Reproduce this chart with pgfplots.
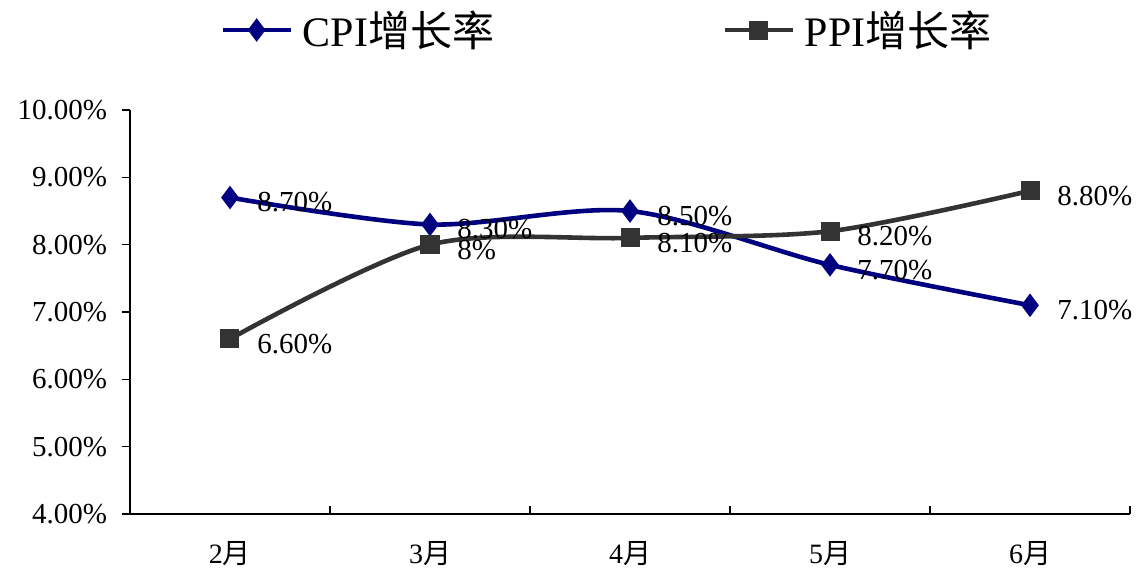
\documentclass[border=0pt]{standalone}
\usepackage{fontspec}
\setmainfont{Liberation Serif}
\newfontfamily\cjk{Noto Sans CJK SC}
\usepackage{pgfplots}
\pgfplotsset{compat=1.18}
\definecolor{cpicol}{RGB}{0,0,128}
\definecolor{ppicol}{RGB}{51,51,51}
\begin{document}
\begin{tikzpicture}
\begin{axis}[
  scale only axis,
  width=500pt, height=202pt,
  xmin=-0.5, xmax=4.5,
  ymin=4, ymax=10,
  axis lines=left,
  axis line style={-, line width=0.6pt, black},
  tick align=outside,
  major tick length=4pt,
  tick style={black, line width=0.6pt},
  xtick={-0.5,0.5,1.5,2.5,3.5,4.5},
  x tick label as interval,
  xticklabels={2{\cjk 月},3{\cjk 月},4{\cjk 月},5{\cjk 月},6{\cjk 月}},
  xtick style={yshift=4pt},
  xticklabel style={font=\fontsize{14}{14}\selectfont, yshift=-6pt},
  ytick={4,5,6,7,8,9,10},
  yticklabels={4.00\%,5.00\%,6.00\%,7.00\%,8.00\%,9.00\%,10.00\%},
  yticklabel style={font=\fontsize{14.5}{14.5}\selectfont, xshift=-4pt},
  point meta=explicit symbolic,
  nodes near coords={\pgfplotspointmeta},
  every node near coord/.append style={anchor=west, inner sep=0pt, xshift=12.5pt, yshift=-2.5pt, font=\fontsize{14.5}{14.5}\selectfont, text=black},
  legend style={at={(0.478,1.198)}, anchor=center, draw=none, fill=none,
    legend columns=2, font=\fontsize{21}{21}\selectfont,
    /tikz/every odd column/.append style={column sep=3pt},
    /tikz/every even column/.append style={column sep=112pt}},
  legend image code/.code={\draw[mark repeat=2,mark phase=2,#1] plot coordinates {(0pt,0pt) (17pt,0pt) (34pt,0pt)};},
  clip=false,
]
\addplot[color=cpicol, line width=2.3pt, smooth, tension=0.5, mark=diamond*, mark size=4pt, mark options={solid, fill=cpicol}]
  table[meta=lab] {
x y lab
0 8.7 8.70\%
1 8.3 8.30\%
2 8.5 8.50\%
3 7.7 7.70\%
4 7.1 7.10\%
};
\addlegendentry{CPI{\cjk 增长率}}
\addplot[color=ppicol, line width=2.3pt, smooth, tension=0.5, mark=square*, mark size=3.6pt, mark options={solid, fill=ppicol}]
  table[meta=lab] {
x y lab
0 6.6 6.60\%
1 8.0 8\%
2 8.1 8.10\%
3 8.2 8.20\%
4 8.8 8.80\%
};
\addlegendentry{PPI{\cjk 增长率}}
\end{axis}
\pgfresetboundingbox
\path[use as bounding box] ([shift={(-65pt,-27pt)}]current axis.south west) rectangle ([shift={(503pt,257pt)}]current axis.south west);
\end{tikzpicture}
\end{document}
